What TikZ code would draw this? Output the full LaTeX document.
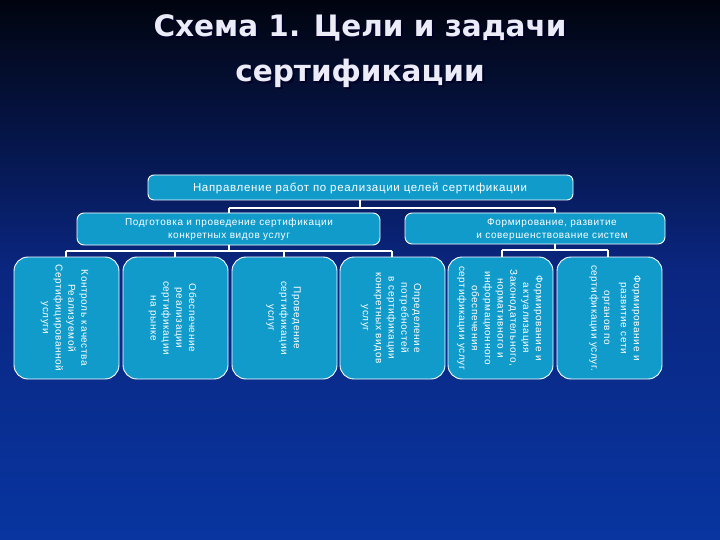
\documentclass[tikz,border=0pt]{standalone}
\usepackage{fontspec}
\setmainfont{Liberation Sans}
\newfontfamily\titlefont{DejaVu Sans}
\newfontfamily\boxfont{Liberation Sans}[LetterSpace=6]
\definecolor{bgtop}{HTML}{01040F}
\definecolor{bgmid}{HTML}{0A2680}
\definecolor{bgbot}{HTML}{0835A0}
\definecolor{boxfill}{HTML}{119BCB}
\definecolor{titlecol}{HTML}{ECECF8}
\begin{document}
\begin{tikzpicture}[x=1pt,y=-1pt,
  every node/.style={inner sep=0pt, outer sep=0pt},
  hbox/.style={draw=white, line width=0.9pt, fill=boxfill, rounded corners=7pt},
  vbox/.style={draw=white, line width=0.9pt, fill=boxfill, rounded corners=14pt},
  btext/.style={text=white, font=\boxfont\fontsize{10}{12.8}\selectfont, align=center, rotate=-90},
  htext/.style={text=white, font=\boxfont\fontsize{10}{13}\selectfont, align=center},
  conn/.style={draw=white, line width=1.2pt},
  ttl/.style={font=\titlefont\bfseries\fontsize{29.5}{30}\selectfont, anchor=base}
]
\shade[top color=bgtop, bottom color=bgbot, middle color=bgmid, shading angle=0] (0,0) rectangle (720,540);
\useasboundingbox (0,0) rectangle (720,540);

% title (shadow, then text)
\node[ttl, text=black!85!blue] (tshadow1) at (362,39) {Схема 1. Цели и задачи};
\node[ttl, text=black!85!blue] (tshadow2) at (362,84) {сертификации};
\node[ttl, text=titlecol] (title1) at (360,37) {Схема 1. Цели и задачи};
\node[ttl, text=titlecol] (title2) at (360,82) {сертификации};

% top box
\draw[hbox, rounded corners=6pt] (148,175) rectangle (573,200);
\node[htext, font=\boxfont\fontsize{11.5}{13}\selectfont] (toptext) at (360,188) {Направление работ по реализации целей сертификации};

% middle boxes
\draw[hbox] (77,213) rectangle (380,245);
\node[htext] (midLtext) at (229,229.5) {Подготовка и проведение сертификации\\конкретных видов услуг};
\draw[hbox] (405,213) rectangle (665,244);
\node[htext] (midRtext) at (552,230) {Формирование, развитие\\и совершенствование систем};

% bottom boxes
\foreach \i/\x in {1/14,2/123,3/232,4/340,5/448,6/557}{
  \draw[vbox] (\x,257) rectangle ++(105,122);
}
\node[btext] (b1) at (64.5,318) {Контроль качества\\Реализуемой\\Сертифицированной\\услуги};
\node[btext] (b2) at (172.5,318) {Обеспечение\\реализации\\сертификации\\на рынке};
\node[btext] (b3) at (283.5,318) {Проведение\\сертификации\\услуг};
\node[btext] (b4) at (391,318) {Определение\\потребностей\\в сертификации\\конкретных видов\\услуг};
\node[btext] (b5) at (500,318) {Формирование и\\актуализация\\Законодательного,\\нормативного и\\информационного\\обеспечения\\сертификации услуг};
\node[btext] (b6) at (615,318) {Формирование и\\развитие сети\\[4pt]органов по\\сертификации услуг.};

% connectors
\coordinate (j0) at (360,208);
\coordinate (jL) at (229,208);
\coordinate (jR) at (555,208);
\draw[conn] (360,200) -- (j0);
\draw[conn] (jL) -- (jR);
\draw[conn] (jL) -- (229,213);
\draw[conn] (jR) -- (555,213);

\coordinate (kL1) at (66,251);
\coordinate (kL4) at (392,251);
\draw[conn] (229,245) -- (229,251);
\draw[conn] (kL1) -- (kL4);
\foreach \x in {66,175,284,392}{ \draw[conn] (\x,251) -- (\x,257); }

\coordinate (kR1) at (502,250);
\coordinate (kR2) at (608,250);
\draw[conn] (555,244) -- (555,250);
\draw[conn] (kR1) -- (kR2);
\foreach \x in {502,608}{ \draw[conn] (\x,250) -- (\x,257); }
\end{tikzpicture}
\end{document}
